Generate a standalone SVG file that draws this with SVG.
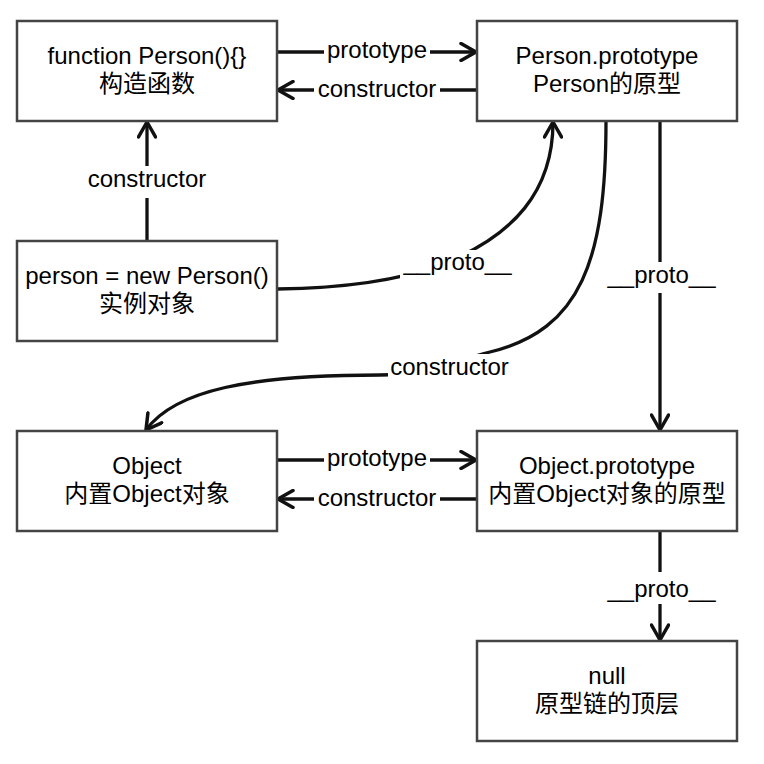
<svg xmlns="http://www.w3.org/2000/svg" width="764" height="764" viewBox="0 0 764 764">
  <style>
    .box { fill: #ffffff; stroke: #444444; stroke-width: 2.5; }
    .t { font-family: "Liberation Sans", "Noto Sans CJK SC", sans-serif; font-size: 24px; fill: #000000; text-anchor: middle; }
    .edge { fill: none; stroke: #111111; stroke-width: 3.3; }
    .bg { fill: #ffffff; }
  </style>
  <defs>
    <marker id="arr" viewBox="0 0 20 20" refX="17" refY="10" markerWidth="20" markerHeight="20" markerUnits="userSpaceOnUse" orient="auto">
      <path d="M2,1.5 L17,10 L2,18.5" fill="none" stroke="#111111" stroke-width="3.5" stroke-linejoin="round" stroke-linecap="round"/>
    </marker>
  </defs>
  <rect width="764" height="764" fill="#ffffff"/>

  <g id="connectors">
    <g id="e-fn-proto">
      <line class="edge" x1="277" y1="52" x2="476" y2="52" marker-end="url(#arr)"/>
      <rect class="bg" x="324" y="38" width="106" height="28"/>
      <text class="t" x="377" y="58">prototype</text>
    </g>
    <g id="e-proto-fn">
      <line class="edge" x1="477" y1="90" x2="278" y2="90" marker-end="url(#arr)"/>
      <rect class="bg" x="314" y="76" width="126" height="28"/>
      <text class="t" x="377" y="97">constructor</text>
    </g>
    <g id="e-inst-fn">
      <line class="edge" x1="147" y1="241" x2="147" y2="122" marker-end="url(#arr)"/>
      <rect class="bg" x="84" y="166" width="126" height="32"/>
      <text class="t" x="147" y="187">constructor</text>
    </g>
    <g id="e-inst-proto">
      <path class="edge" d="M277,289 C350,288 400,280 440,265 C515,236 553,190 553,122" marker-end="url(#arr)"/>
      <rect class="bg" x="400" y="250" width="115" height="30"/>
      <text class="t" x="457.5" y="269.5">__proto__</text>
    </g>
    <g id="e-proto-obj">
      <path class="edge" d="M606,121 C606,260 581,330 490,352 C450,362 420,375 380,375 C250,375 175,390 146,430" marker-end="url(#arr)"/>
      <rect class="bg" x="388" y="354" width="123" height="27"/>
      <text class="t" x="449.5" y="375">constructor</text>
    </g>
    <g id="e-proto-objproto">
      <line class="edge" x1="660" y1="121" x2="660" y2="430" marker-end="url(#arr)"/>
      <rect class="bg" x="604" y="262" width="115" height="31"/>
      <text class="t" x="661.5" y="283">__proto__</text>
    </g>
    <g id="e-obj-objproto">
      <line class="edge" x1="277" y1="460" x2="476" y2="460" marker-end="url(#arr)"/>
      <rect class="bg" x="324" y="446" width="106" height="28"/>
      <text class="t" x="377" y="466">prototype</text>
    </g>
    <g id="e-objproto-obj">
      <line class="edge" x1="477" y1="499" x2="278" y2="499" marker-end="url(#arr)"/>
      <rect class="bg" x="314" y="485" width="126" height="28"/>
      <text class="t" x="377" y="506">constructor</text>
    </g>
    <g id="e-objproto-null">
      <line class="edge" x1="660" y1="531" x2="660" y2="640" marker-end="url(#arr)"/>
      <rect class="bg" x="604" y="572" width="115" height="32"/>
      <text class="t" x="661.5" y="597">__proto__</text>
    </g>
  </g>

  <g id="node-fn">
    <rect class="box" x="17" y="21" width="260" height="100"/>
    <text class="t" x="147" y="64">function Person(){}</text>
    <text class="t" x="147" y="92">构造函数</text>
  </g>
  <g id="node-person-proto">
    <rect class="box" x="477" y="21" width="260" height="100"/>
    <text class="t" x="607" y="64">Person.prototype</text>
    <text class="t" x="607" y="92">Person的原型</text>
  </g>
  <g id="node-instance">
    <rect class="box" x="17" y="241" width="260" height="100"/>
    <text class="t" x="147" y="284">person = new Person()</text>
    <text class="t" x="147" y="312">实例对象</text>
  </g>
  <g id="node-object">
    <rect class="box" x="17" y="431" width="260" height="100"/>
    <text class="t" x="147" y="474">Object</text>
    <text class="t" x="147" y="502">内置Object对象</text>
  </g>
  <g id="node-object-proto">
    <rect class="box" x="477" y="431" width="260" height="100"/>
    <text class="t" x="607" y="474">Object.prototype</text>
    <text class="t" x="607" y="502">内置Object对象的原型</text>
  </g>
  <g id="node-null">
    <rect class="box" x="477" y="641" width="260" height="100"/>
    <text class="t" x="607" y="684">null</text>
    <text class="t" x="607" y="712">原型链的顶层</text>
  </g>
</svg>
